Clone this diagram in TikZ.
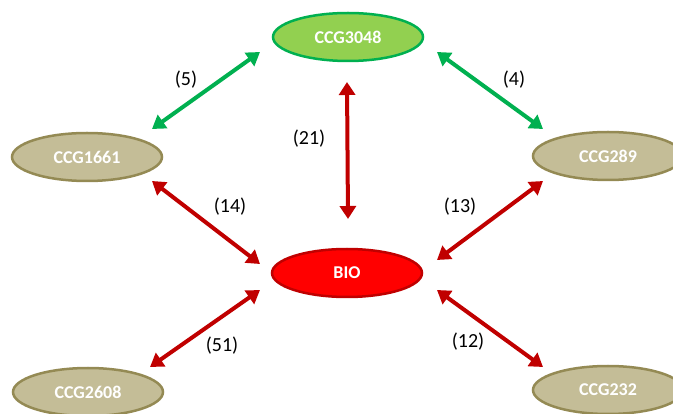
\documentclass[tikz,border=0pt]{standalone}
\usepackage{fontspec}
\setmainfont{Carlito}
\usetikzlibrary{arrows.meta,shapes.geometric}
\definecolor{gfill}{HTML}{92D050}
\definecolor{gline}{HTML}{00B050}
\definecolor{tfill}{HTML}{C4BD97}
\definecolor{tline}{HTML}{948A54}
\definecolor{rfill}{HTML}{FF0000}
\definecolor{rline}{HTML}{C00000}
\tikzset{
  ell/.style={ellipse, minimum width=150pt, minimum height=48pt, line width=2.5pt, text=white, font=\fontsize{18}{21}\selectfont\bfseries, inner sep=0pt},
  tannode/.style={ell, fill=tfill, draw=tline},
  conn/.style={line width=4pt, {Triangle[width=16pt,length=13pt]}-{Triangle[width=16pt,length=13pt]}},
  gconn/.style={conn, draw=gline, color=gline},
  rconn/.style={conn, draw=rline, color=rline},
  lbl/.style={font=\fontsize{20}{24}\selectfont, text=black}
}
\begin{document}
\begin{tikzpicture}[x=1pt,y=-1pt]
\useasboundingbox (0,0) rectangle (673,414);
\node[ell, fill=gfill, draw=gline] (top) at (348,37) {CCG3048};
\node[tannode] (l1) at (87,157) {CCG1661};
\node[tannode] (r1) at (608,156) {CCG289};
\node[ell, fill=rfill, draw=rline] (bio) at (347,273) {BIO};
\node[tannode] (l2) at (88,392) {CCG2608};
\node[tannode] (r2) at (608,390) {CCG232};
\coordinate (a1) at (152,129); \coordinate (a2) at (260,52);
\coordinate (b1) at (437,52); \coordinate (b2) at (543,129);
\coordinate (c1) at (347,82); \coordinate (c2) at (348,219);
\coordinate (d1) at (152,181); \coordinate (d2) at (260,264);
\coordinate (e1) at (437,260); \coordinate (e2) at (543,181);
\coordinate (f1) at (150,367); \coordinate (f2) at (260,290);
\coordinate (g1) at (437,290); \coordinate (g2) at (543,367);
\draw[gconn] (a1) -- (a2);
\draw[gconn] (b1) -- (b2);
\draw[rconn] (c1) -- (c2);
\draw[rconn] (d1) -- (d2);
\draw[rconn] (e1) -- (e2);
\draw[rconn] (f1) -- (f2);
\draw[rconn] (g1) -- (g2);
\node[lbl] (n5) at (186,80) {(5)};
\node[lbl] (n4) at (514,80) {(4)};
\node[lbl] (n21) at (309,139) {(21)};
\node[lbl] (n14) at (230,207) {(14)};
\node[lbl] (n13) at (460,207) {(13)};
\node[lbl] (n51) at (222,346) {(51)};
\node[lbl] (n12) at (468,342) {(12)};
\end{tikzpicture}
\end{document}
